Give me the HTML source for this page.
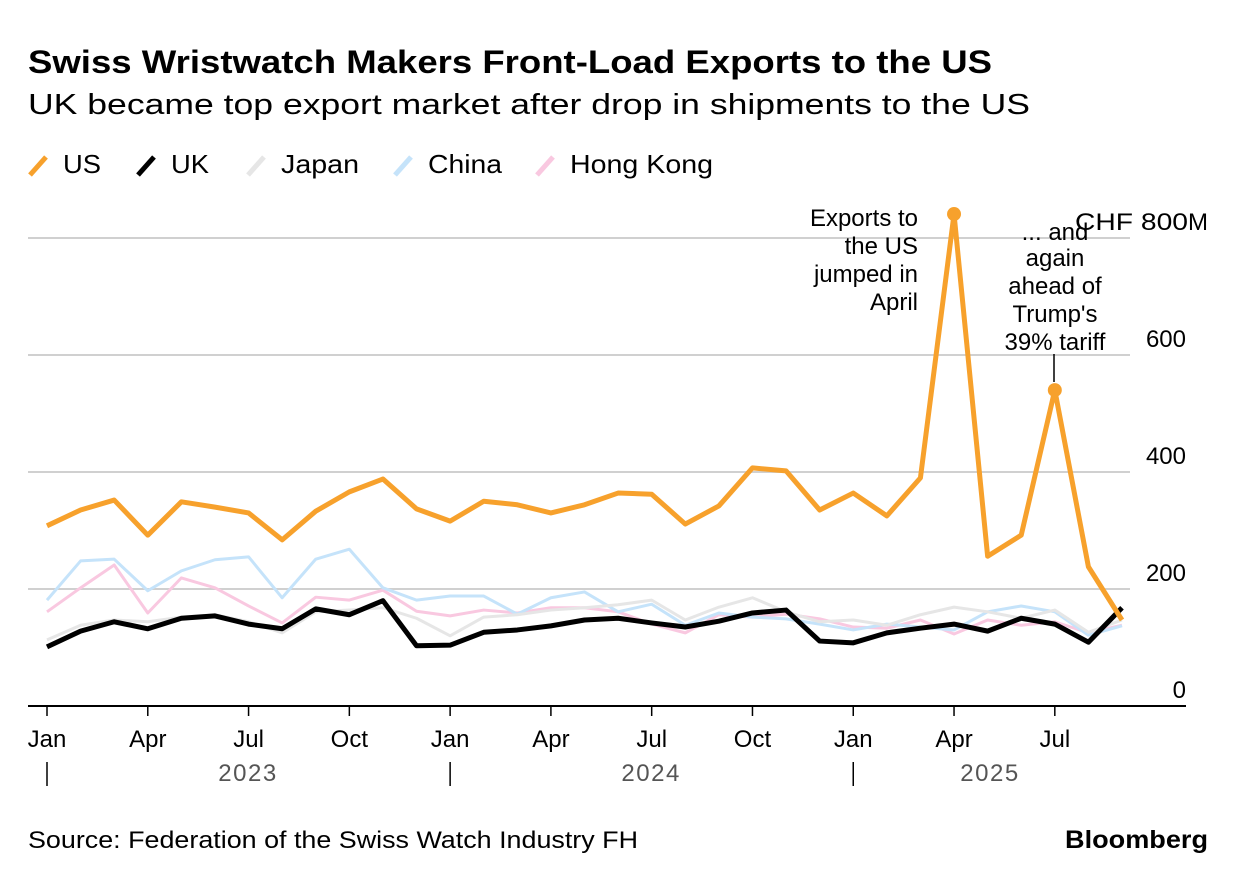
<!DOCTYPE html>
<html><head><meta charset="utf-8"><style>
body{margin:0;background:#fff;font-family:"Liberation Sans",sans-serif}
svg{display:block}
</style></head><body>
<svg width="1237" height="882" xmlns="http://www.w3.org/2000/svg" font-family="Liberation Sans, sans-serif">
<text x="28" y="73" font-size="32" font-weight="bold" fill="#000" textLength="964" lengthAdjust="spacingAndGlyphs">Swiss Wristwatch Makers Front-Load Exports to the US</text>
<text x="28" y="114" font-size="29" fill="#000" textLength="1002" lengthAdjust="spacingAndGlyphs">UK became top export market after drop in shipments to the US</text>
<g id="legend"></g>
<g id="grid"></g>
<g id="xaxis"></g>
<g id="series"></g>
<g font-size="24" text-anchor="end" fill="#000">
<text x="918" y="226">Exports to</text><text x="918" y="254">the US</text><text x="918" y="282">jumped in</text><text x="918" y="310">April</text>
</g>
<g font-size="24" text-anchor="middle" fill="#000">
<text x="1055" y="240">... and</text><text x="1055" y="266">again</text><text x="1055" y="294">ahead of</text><text x="1055" y="322">Trump's</text><text x="1055" y="350">39% tariff</text>
<line x1="1054" y1="354" x2="1054" y2="382" stroke="#000" stroke-width="1.5"/>
</g>
<text x="28" y="848" font-size="24" fill="#000" textLength="610" lengthAdjust="spacingAndGlyphs">Source: Federation of the Swiss Watch Industry FH</text>
<text x="1065" y="848" font-size="25" font-weight="bold" fill="#000" textLength="143" lengthAdjust="spacingAndGlyphs">Bloomberg</text>
</svg>
<script>
const months=["Jan","Feb","Mar","Apr","May","Jun","Jul","Aug","Sep","Oct","Nov","Dec"];
const us=[308,335,352,292,349,340,330,284,333,366,388,337,316,350,344,330,344,364,362,311,342,407,402,335,364,325,390,841,256,292,540,238,147];
const uk=[101,128,144,132,150,154,140,132,166,156,180,103,104,126,130,137,147,150,142,135,145,159,164,111,108,125,133,140,128,150,140,109,168];
const japan=[113,138,147,144,152,156,144,125,161,164,168,150,120,152,156,164,168,173,181,147,169,185,161,144,147,138,156,169,161,150,164,126,147];
const china=[181,248,251,197,231,250,255,185,251,268,202,181,188,188,157,185,195,161,174,138,159,152,149,140,130,140,135,130,161,171,161,121,137];
const hongKong=[161,202,241,159,219,202,171,142,186,181,198,162,154,164,159,168,168,161,140,125,156,152,157,149,135,133,147,123,147,138,144,125,138];
const yTicks=[0,200,400,600,800];
const years=["2023","2024","2025"];
const NS="http://www.w3.org/2000/svg";
const x=i=>47+i*(1122-47)/32;
const y=v=>706-v*0.585;
function mk(tag,attrs,parent){const e=document.createElementNS(NS,tag);for(const k in attrs)e.setAttribute(k,attrs[k]);parent.appendChild(e);return e;}
const grid=document.getElementById('grid');
yTicks.forEach(t=>{
  if(t>0){const l=mk('line',{x1:28,x2:1130,y1:y(t),y2:y(t),stroke:'#d0d0d0','stroke-width':2},grid);
  
  }
  const tx=mk('text',{x:1186,y:y(t)-8,'font-size':24,'text-anchor':'end',fill:'#000'},grid);
  tx.textContent=t===800?'CHF 800':String(t);
  
  
  if(t===800){
    tx.setAttribute('x',1075);tx.setAttribute('text-anchor','start');
    tx.setAttribute('textLength',113);tx.setAttribute('lengthAdjust','spacingAndGlyphs');
    const m=mk('text',{x:1188,y:y(t)-8,'font-size':24,fill:'#000'},grid);m.textContent='M';}
});
const xa=document.getElementById('xaxis');
const base=mk('line',{x1:28,x2:1186,y1:706,y2:706,stroke:'#000','stroke-width':2},xa);


for(let i=0;i<us.length;i++){
  if(i%3===0){
    mk('line',{x1:x(i),x2:x(i),y1:706,y2:716,stroke:'#000','stroke-width':1.5},xa);
    const t=mk('text',{x:x(i),y:747,'font-size':24,'text-anchor':'middle',fill:'#000'},xa);
    t.textContent=months[i%12];
    
    
  }
}
years.forEach((yr,k)=>{
  const i=k*12;
  mk('line',{x1:x(i),x2:x(i),y1:762,y2:786,stroke:'#000','stroke-width':1.5},xa);
  const cx=k<2?x(i)+201:990;
  const t=mk('text',{x:cx,y:781,'font-size':24,'text-anchor':'middle',fill:'#555','letter-spacing':'1.5'},xa);
  t.textContent=yr;
  
  
});
const ser=document.getElementById('series');
const defs=[["Hong Kong",hongKong,'#f9c8e0',3],["China",china,'#c5e3fa',3],["Japan",japan,'#e6e6e6',3],["UK",uk,'#000',5],["US",us,'#f7a12c',5]];
defs.forEach(([n,d,c,w])=>{
  const p=mk('polyline',{points:d.map((v,i)=>x(i)+','+y(v)).join(' '),fill:'none',stroke:c,'stroke-width':w,'stroke-linejoin':'round'},ser);
  
  
});
[27,30].forEach(i=>{
  const c=mk('circle',{cx:x(i),cy:y(us[i]),r:7,fill:'#f7a12c'},ser);
  
  
});
const lg=document.getElementById('legend');
const items=[["US",'#f7a12c',28,38],["UK",'#000',136,38],["Japan",'#e6e6e6',246,78],["China",'#c5e3fa',393,74],["Hong Kong",'#f9c8e0',535,143]];
items.forEach(([n,c,lx,tl])=>{
  const g=mk('g',{},lg);
  
  
  mk('line',{x1:lx+2,y1:175,x2:lx+18,y2:157,stroke:c,'stroke-width':5},g);
  const t=mk('text',{x:lx+35,y:173,'font-size':26,fill:'#000',textLength:tl,lengthAdjust:'spacingAndGlyphs'},g);
  t.textContent=n;
});
</script>
</body></html>
